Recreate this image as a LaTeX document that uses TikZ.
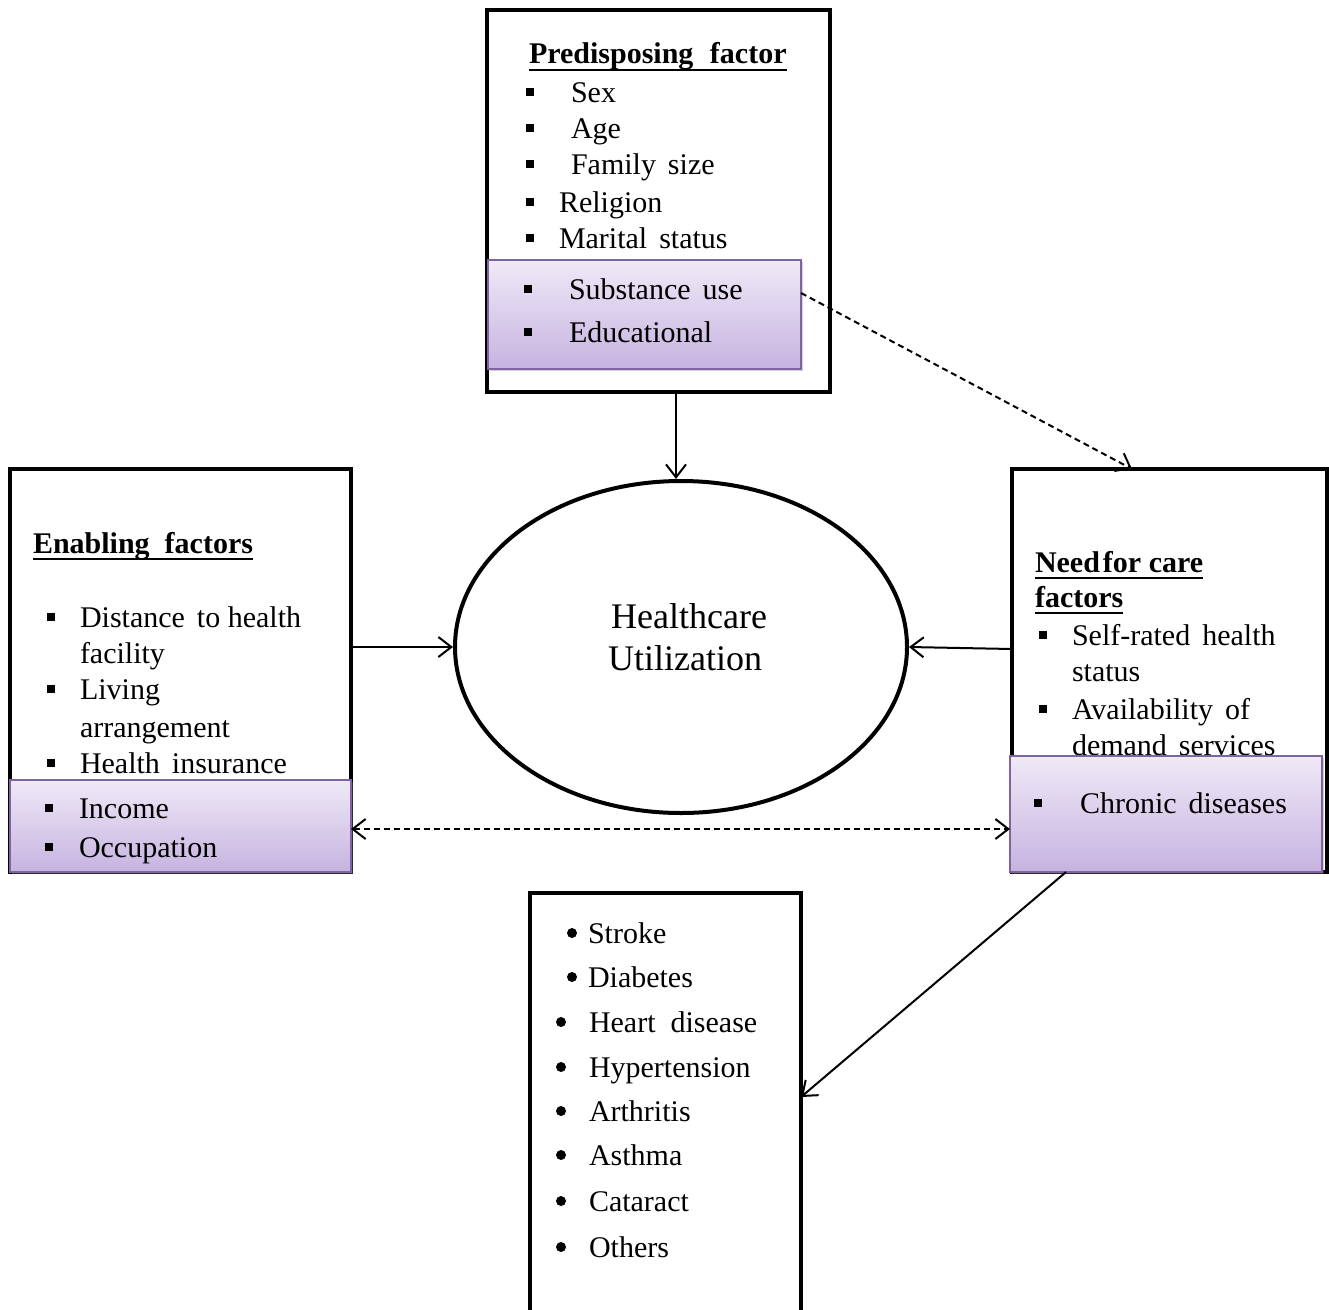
\documentclass[tikz,border=0pt]{standalone}
\usepackage{fontspec}
\setmainfont{Liberation Serif}
\usetikzlibrary{arrows.meta,shapes.geometric,shadows,calc}
\definecolor{pfillT}{HTML}{EFE9F7}
\definecolor{pfillB}{HTML}{C6B3E0}
\definecolor{pborder}{HTML}{8064A2}
\newcommand\sqbul[2]{\fill[shift={(#1,#2)}] (-4,-4) rectangle (4,4);}
\newcommand\dotbul[2]{\fill (#1,#2) circle (5pt);}
\tikzset{
  txt/.style={anchor=base west, inner sep=0pt, outer sep=0pt, font=\fontsize{30}{36}\selectfont},
  hdr/.style={anchor=base west, inner sep=0pt, outer sep=0pt, font=\fontsize{30}{36}\selectfont\bfseries},
  frame/.style={draw, line width=4pt, inner sep=0pt, outer sep=0pt, anchor=north west, fill=white},
  pbox/.style={draw=pborder, line width=1.5pt, top color=pfillT, bottom color=pfillB, inner sep=0pt, outer sep=0pt, anchor=north west,
    drop shadow={opacity=0.35, shadow xshift=2pt, shadow yshift=-2pt}},
  tipv/.tip={Straight Barb[length=13pt,width=20pt,line width=2pt]},
  arr/.style={line width=2pt, -tipv},
  darr/.style={line width=2pt, dash pattern=on 6pt off 4pt, -tipv},
  ddarr/.style={line width=2pt, dash pattern=on 6pt off 4pt, tipv-tipv},
  uline/.style={line width=2.5pt}
}
\begin{document}
\begin{tikzpicture}[x=1pt,y=-1pt]
\useasboundingbox (0,0) rectangle (1329,1309);
\clip (0,0) rectangle (1329,1309);
\fill[white] (0,0) rectangle (1329,1309);

% ---------- frames ----------
\node[frame, minimum width=343pt, minimum height=382pt] (pre) at (487,10) {};
\node[frame, minimum width=341pt, minimum height=403pt] (en) at (10,469) {};
\node[frame, minimum width=315pt, minimum height=403pt] (nd) at (1012,469) {};
\node[frame, minimum width=271pt, minimum height=450pt] (dis) at (530,893) {};
\node[draw, ellipse, line width=4pt, minimum width=452pt, minimum height=332pt, inner sep=0pt] (hu) at (681,647) {};
\node[anchor=base, inner sep=0pt, font=\fontsize{36}{42}\selectfont] (hut1) at (689,628) {Healthcare};
\node[anchor=base, inner sep=0pt, font=\fontsize{36}{42}\selectfont] (hut2) at (685,670) {Utilization};

% ---------- predisposing ----------
\node[hdr] (h1) at (529,63) {Predisposing\hspace{0.55em}factor};
\draw[uline] ($(h1.base west)+(0,7)$) -- ($(h1.base east)+(0,7)$);
\sqbul{530}{92}\node[txt] (p1) at (571,102) {Sex};
\sqbul{530}{128}\node[txt] (p2) at (571,138) {Age};
\sqbul{530}{164}\node[txt] (p3) at (571,174) {Family\hspace{0.4em}size};
\sqbul{530}{202}\node[txt] (p4) at (559,212) {Religion};
\sqbul{530}{238}\node[txt] (p5) at (559,248) {Marital\hspace{0.4em}status};
\node[pbox, minimum width=313pt, minimum height=109pt] (prp) at (488,260) {};
\sqbul{528}{289}\node[txt] (p6) at (569,299) {Substance\hspace{0.4em}use};
\sqbul{528}{332}\node[txt] (p7) at (569,342) {Educational};

% ---------- enabling ----------
\node[hdr] (h2) at (33,553) {Enabling\hspace{0.5em}factors};
\draw[uline] ($(h2.base west)+(0,6)$) -- ($(h2.base east)+(0,6)$);
\sqbul{51}{617}\node[txt] (e1) at (80,627) {Distance\hspace{0.4em}to health};
\node[txt] (e1b) at (80,663) {facility};
\sqbul{51}{689}\node[txt] (e2) at (80,699) {Living};
\node[txt] (e2b) at (80,737) {arrangement};
\sqbul{51}{763}\node[txt] (e3) at (80,773) {Health\hspace{0.4em}insurance};
\node[pbox, minimum width=341pt, minimum height=92pt] (enp) at (10,780) {};
\sqbul{49}{808}\node[txt] (e4) at (79,818) {Income};
\sqbul{49}{847}\node[txt] (e5) at (79,857) {Occupation};

% ---------- need for care ----------
\node[hdr] (h3) at (1035,572) {Need\hspace{0.1em}for care};
\draw[uline] ($(h3.base west)+(0,6)$) -- ($(h3.base east)+(0,6)$);
\node[hdr] (h3b) at (1035,607) {factors};
\draw[uline] ($(h3b.base west)+(0,6)$) -- ($(h3b.base east)+(0,6)$);
\sqbul{1043}{635}\node[txt] (n1) at (1072,645) {Self-rated\hspace{0.4em}health};
\node[txt] (n1b) at (1072,681) {status};
\sqbul{1043}{709}\node[txt] (n2) at (1072,719) {Availability\hspace{0.4em}of};
\node[txt] (n2b) at (1072,755) {demand\hspace{0.4em}services};
\node[pbox, minimum width=312pt, minimum height=116pt] (ndp) at (1010,756) {};
\sqbul{1038}{803}\node[txt] (n3) at (1080,813) {Chronic\hspace{0.4em}diseases};

% ---------- diseases ----------
\dotbul{572}{933}\node[txt] (d1) at (588,943) {Stroke};
\dotbul{572}{977}\node[txt] (d2) at (588,987) {Diabetes};
\dotbul{561}{1022}\node[txt] (d3) at (589,1032) {Heart\hspace{0.5em}disease};
\dotbul{561}{1067}\node[txt] (d4) at (589,1077) {Hypertension};
\dotbul{561}{1111}\node[txt] (d5) at (589,1121) {Arthritis};
\dotbul{561}{1155}\node[txt] (d6) at (589,1165) {Asthma};
\dotbul{561}{1201}\node[txt] (d7) at (589,1211) {Cataract};
\dotbul{561}{1247}\node[txt] (d8) at (589,1257) {Others};

% ---------- connectors ----------
\draw[arr] ($(pre.south west)+(189,0)$) -- ($(hu.north)+(-5,0)$);
\draw[arr] (en.east |- hu.west) -- (hu.west);
\draw[arr] ($(nd.west |- hu.east)+(0,2)$) -- (hu.east);
\draw[darr] ($(prp.north east)+(0,33)$) -- ($(nd.north west)+(120,0)$);
\draw[ddarr] ($(enp.east)+(0,3)$) -- ($(enp.east -| ndp.west)+(0,3)$);
\draw[arr] ($(ndp.south west)+(56,0)$) -- ($(dis.north east)+(0,204)$);
\end{tikzpicture}
\end{document}
